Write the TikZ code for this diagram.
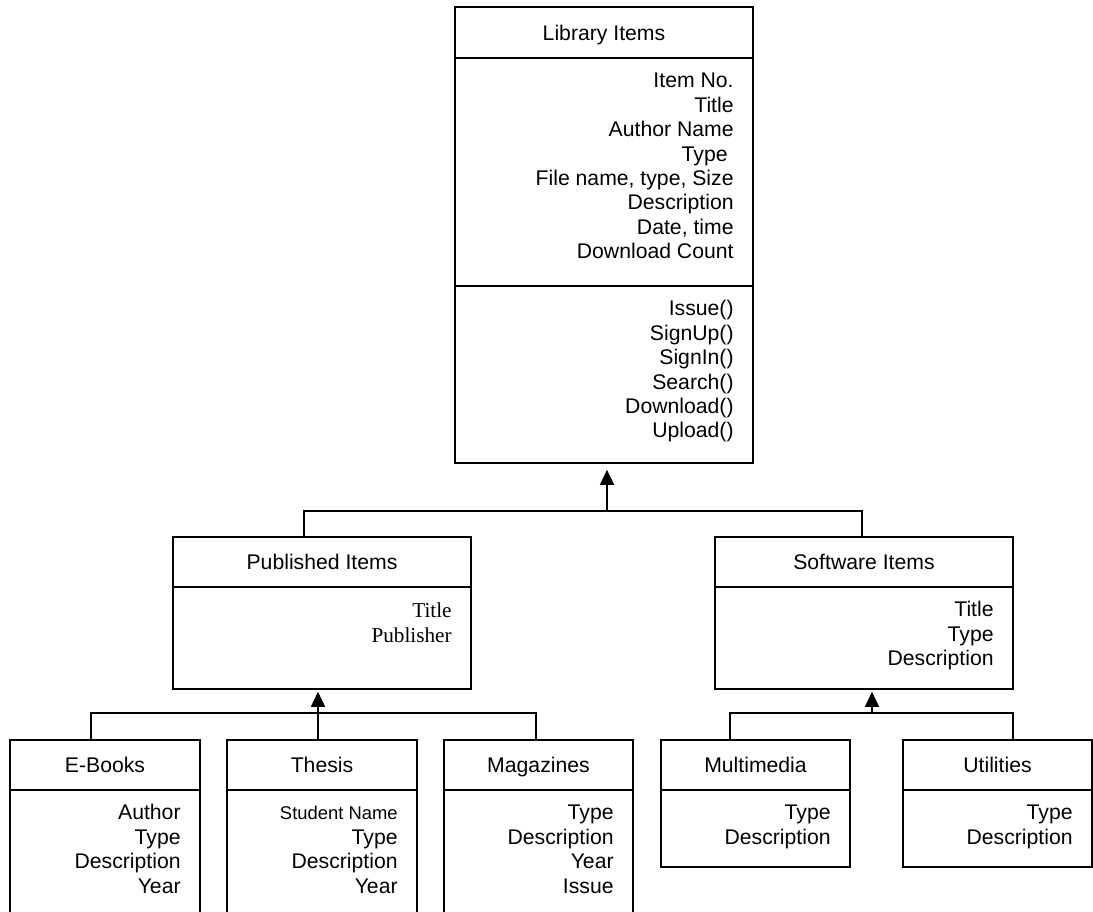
\documentclass[tikz,border=0pt]{standalone}
\usepackage{fontspec}
\setmainfont{Liberation Sans}
\newfontfamily\serifface{Liberation Serif}
\usetikzlibrary{arrows.meta,calc}

\tikzset{
  box/.style={draw, line width=1.6pt, rectangle, inner sep=0pt},
  hdr/.style={box, font=\fontsize{21.2}{24.4}\selectfont, text height=15.2pt, text depth=0pt},
  attrs/.style={inner sep=0pt, anchor=north east, align=right, font=\fontsize{21.2}{24.4}\selectfont},
  serifattrs/.style={attrs, font=\serifface\fontsize{21.2}{24.4}\selectfont},
  wire/.style={line width=1.6pt, line join=miter},
  inherit/.style={line width=1.6pt, -{Triangle[length=15pt,width=14pt]}},
}
\newcommand\firstline{\rule{0pt}{19.2pt}}

\begin{document}
\begin{tikzpicture}[x=1pt, y=-1pt]
  \useasboundingbox (0,0) rectangle (1093,912);
  \fill[white] (0,0) rectangle (1093,912);
  \clip (0,0) rectangle (1093,912);

  % ---- Library Items ----
  \node[hdr, minimum width=298pt, minimum height=51pt] (libH) at (604,32.5) {Library Items};
  \node[box, minimum width=298pt, minimum height=228pt] (libA) at (604,172) {};
  \node[box, minimum width=298pt, minimum height=177pt] (libM) at (604,374.5) {};
  \node[attrs] (libAt) at ([xshift=-20pt,yshift=-11.3pt]libA.north east)
    {\firstline Item No.\\Title\\Author Name\\Type\kern6pt\\File name, type, Size\\Description\\Date, time\\Download Count};
  \node[attrs] (libMt) at ([xshift=-20pt,yshift=-11.3pt]libM.north east)
    {\firstline Issue()\\SignUp()\\SignIn()\\Search()\\Download()\\Upload()};

  % ---- Published Items ----
  \node[hdr, minimum width=298pt, minimum height=50pt] (pubH) at (322,562) {Published Items};
  \node[box, minimum width=298pt, minimum height=102pt] (pubA) at (322,638) {};
  \node[serifattrs] (pubAt) at ([xshift=-20pt,yshift=-12pt]pubA.north east)
    {\firstline Title\\Publisher};

  % ---- Software Items ----
  \node[hdr, minimum width=298pt, minimum height=50pt] (sofH) at (864,562) {Software Items};
  \node[box, minimum width=298pt, minimum height=102pt] (sofA) at (864,638) {};
  \node[attrs] (sofAt) at ([xshift=-20pt,yshift=-11.3pt]sofA.north east)
    {\firstline Title\\Type\\Description};

  % ---- E-Books ----
  \node[hdr, minimum width=190pt, minimum height=50pt] (ebkH) at (105,765) {E-Books};
  \node[box, minimum width=190pt, minimum height=150pt] (ebkA) at (105,865) {};
  \node[attrs] (ebkAt) at ([xshift=-20pt,yshift=-11.3pt]ebkA.north east)
    {\firstline Author\\Type\\Description\\Year};

  % ---- Thesis ----
  \node[hdr, minimum width=190pt, minimum height=50pt] (thsH) at (322,765) {Thesis};
  \node[box, minimum width=190pt, minimum height=150pt] (thsA) at (322,865) {};
  \node[attrs] (thsAt) at ([xshift=-20pt,yshift=-11.3pt]thsA.north east)
    {\firstline{\fontsize{18.4}{24.4}\selectfont Student Name}\\Type\\Description\\Year};

  % ---- Magazines ----
  \node[hdr, minimum width=189pt, minimum height=50pt] (magH) at (538.5,765) {Magazines};
  \node[box, minimum width=189pt, minimum height=150pt] (magA) at (538.5,865) {};
  \node[attrs] (magAt) at ([xshift=-20pt,yshift=-11.3pt]magA.north east)
    {\firstline Type\\Description\\Year\\Issue};

  % ---- Multimedia ----
  \node[hdr, minimum width=189pt, minimum height=50pt] (mulH) at (755.5,765) {Multimedia};
  \node[box, minimum width=189pt, minimum height=77pt] (mulA) at (755.5,828.5) {};
  \node[attrs] (mulAt) at ([xshift=-20pt,yshift=-11.3pt]mulA.north east)
    {\firstline Type\\Description};

  % ---- Utilities ----
  \node[hdr, minimum width=189pt, minimum height=50pt] (utlH) at (997.5,765) {Utilities};
  \node[box, minimum width=189pt, minimum height=77pt] (utlA) at (997.5,828.5) {};
  \node[attrs] (utlAt) at ([xshift=-20pt,yshift=-11.3pt]utlA.north east)
    {\firstline Type\\Description};

  % ---- generalisation trees ----
  \coordinate (t1) at (304,511);
  \coordinate (t2) at (862,511);
  \coordinate (t0) at (607,511);
  \draw[wire] (t1 |- pubH.north) -- (t1) -- (t2) -- (t2 |- sofH.north);
  \draw[inherit, shorten >=6pt] (t0) -- (t0 |- libM.south);

  \coordinate (m1) at (91,713);
  \coordinate (m2) at (536,713);
  \coordinate (m0) at (318,713);
  \draw[wire] (m1 |- ebkH.north) -- (m1) -- (m2) -- (m2 |- magH.north);
  \draw[inherit, shorten >=2pt] (m0 |- thsH.north) -- (m0 |- pubA.south);

  \coordinate (r1) at (730,713);
  \coordinate (r2) at (1013,713);
  \coordinate (r0) at (872,713);
  \draw[wire] (r1 |- mulH.north) -- (r1) -- (r2) -- (r2 |- utlH.north);
  \draw[inherit, shorten >=2pt] (r0) -- (r0 |- sofA.south);
\end{tikzpicture}
\end{document}
